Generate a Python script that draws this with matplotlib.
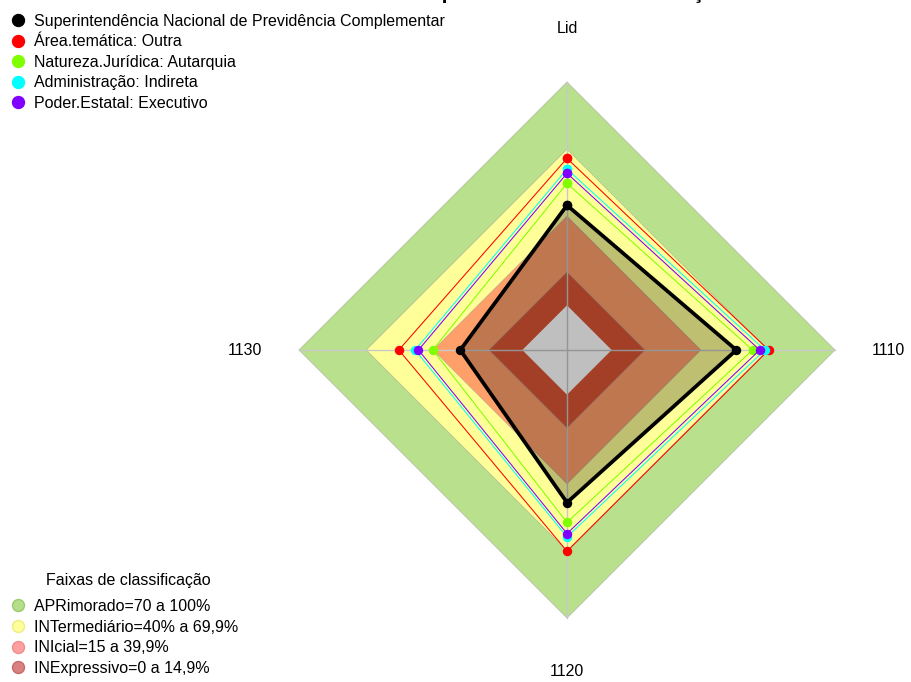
import numpy as np
import matplotlib.pyplot as plt
from matplotlib.lines import Line2D

plt.rcParams['font.family'] = ['Liberation Sans', 'DejaVu Sans']

# --- DATA ---
axis_labels = ['Lid', '1110', '1120', '1130']

series_names = ['Superintendência Nacional de Previdência Complementar',
                'Área.temática: Outra',
                'Natureza.Jurídica: Autarquia',
                'Administração: Indireta',
                'Poder.Estatal: Executivo']
series_colors = ['#000000', '#FF0000', '#80FF00', '#00FFFF', '#8000FF']
superintendencia = [44.8, 55.8, 48.3, 27.8]
area_tematica = [65.8, 70.3, 70.1, 55.3]
natureza_juridica = [54.6, 63.1, 57.2, 40.1]
administracao = [61.0, 68.6, 63.7, 48.0]
poder_estatal = [59.1, 66.3, 62.2, 46.5]

band_names = ['APRimorado=70 a 100%', 'INTermediário=40% a 69,9%',
              'INIcial=15 a 39,9%', 'INExpressivo=0 a 14,9%']
band_tops = [100, 69.9, 39.9, 14.9]
band_fill_colors = ['#B9E08C', '#FFFF99', '#FFA06B', '#DC5535']
band_legend_colors = ['#B5DE8A', '#FFFF9E', '#FFA0A0', '#D98080']
band_legend_edges = ['#9CCB6E', '#EDED80', '#F08C8C', '#C86A6A']

title = 'Índices de maturidade por dimensão de Liderança'


def closed(v):
    return np.append(v, v[0])


fig = plt.figure(figsize=(9.11, 6.82), dpi=100)
ax = fig.add_axes([0.3282, 0.0938, 0.5884, 0.786], projection='polar')
ax.set_theta_zero_location('N')
ax.set_theta_direction(-1)

theta = np.arange(len(axis_labels)) * 2 * np.pi / len(axis_labels)
theta_c = closed(theta)

# classification bands (outer to inner), white gap in the centre
for top, col in zip(band_tops, band_fill_colors):
    ax.fill(theta_c, [top] * len(theta_c), facecolor=col,
            edgecolor=(0.6, 0.6, 0.6, 0.5), linewidth=0.6, zorder=1,
            clip_on=False)
ax.fill(theta_c, [0] * len(theta_c), facecolor='white', linewidth=0,
        zorder=1, clip_on=False)

# radial axis lines
for t in theta:
    ax.plot([t, t], [-20, 100], color='#C8C8C8', linewidth=1, zorder=2,
            clip_on=False)

# shaded polygon of the main series
ax.fill(theta_c, closed(superintendencia), color='black', alpha=0.25,
        linewidth=0, zorder=3, clip_on=False)

all_series = [superintendencia, area_tematica, natureza_juridica,
              administracao, poder_estatal]
widths = [2.7, 0.75, 0.75, 0.75, 0.75]
draw_order = [1, 2, 3, 4, 0]
for i in draw_order:
    ax.plot(theta_c, closed(all_series[i]), color=series_colors[i],
            linewidth=widths[i], marker='o', markersize=6.8,
            markeredgewidth=0, zorder=4 + (i == 0), clip_on=False)

for t, lab in zip(theta, axis_labels):
    ax.text(t, 124, lab, ha='center', va='center', fontsize=11.5)

ax.set_rlim(0, 100)
ax.set_rorigin(-20)
ax.set_xticks([])
ax.set_yticks([])
ax.grid(False)
# polar axes re-enables the inner spine at draw time, so blank them instead
for s in ax.spines.values():
    s.set_color('none')
    s.set_linewidth(0)
ax.patch.set_alpha(0)

# legends
handles1 = [Line2D([], [], linestyle='none', marker='o', markersize=8.6,
                   color=c) for c in series_colors]
fig.legend(handles1, series_names, loc='upper left',
           bbox_to_anchor=(10 / 911, 1 - 14 / 682), frameon=False,
           fontsize=11.5, handlelength=1.0, handletextpad=0.5,
           labelspacing=0.34, borderpad=0, borderaxespad=0)

handles2 = [Line2D([], [], linestyle='none', marker='o', markersize=8.6,
                   markerfacecolor=c, markeredgecolor=e)
            for c, e in zip(band_legend_colors, band_legend_edges)]
fig.legend(handles2, band_names, loc='lower left',
           bbox_to_anchor=(10 / 911, 6 / 682), frameon=False,
           fontsize=11.5, handlelength=1.0, handletextpad=0.5,
           labelspacing=0.36, borderpad=0, borderaxespad=0)
fig.text(128 / 911, 1 - 580 / 682, 'Faixas de classificação',
         ha='center', va='center', fontsize=11.5)

# title sits just above the top edge (only descenders show)
fig.text(465 / 911, 1 + 1 / 682, title, ha='center', va='baseline',
         fontsize=15.2, fontweight='bold')

fig.savefig('out.png', dpi=100)
